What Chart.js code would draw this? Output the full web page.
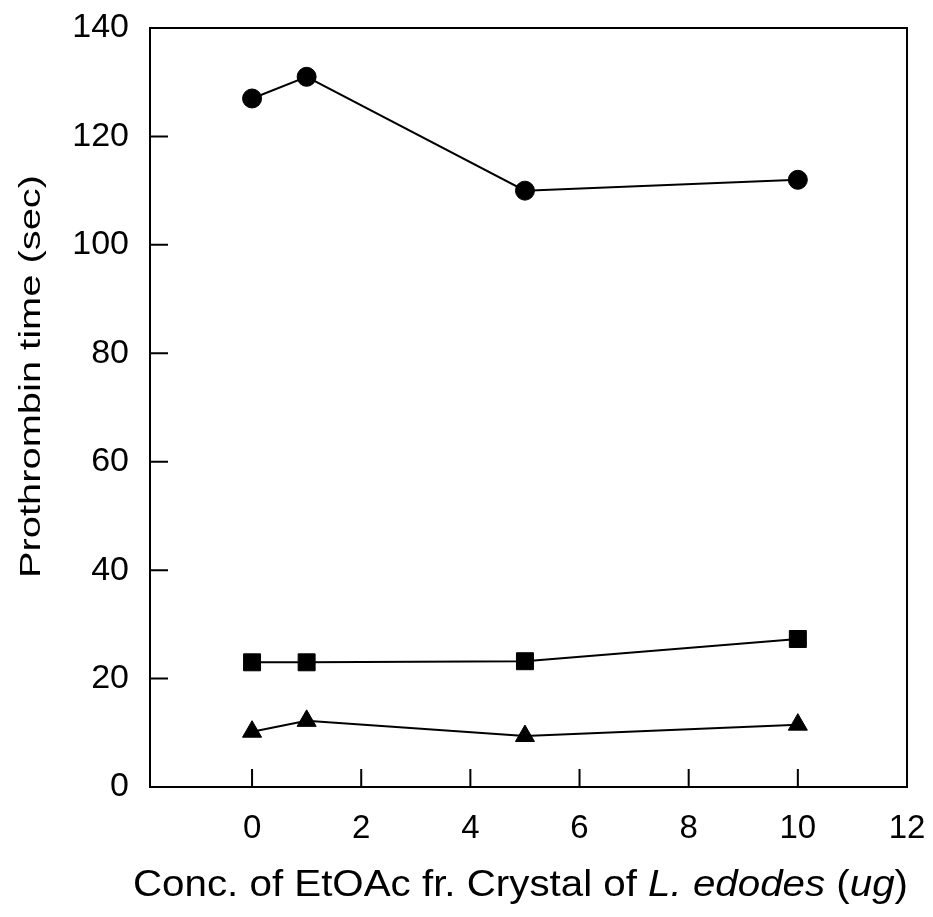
<!DOCTYPE html>
<html>
<head>
<meta charset="utf-8">
<script src="https://cdn.jsdelivr.net/npm/chart.js@4"></script>
<style>
  html, body { margin: 0; padding: 0; background: #fff; }
  #wrap { width: 933px; height: 917px; }
</style>
</head>
<body>
<div id="wrap"><canvas id="c" width="933" height="917"></canvas></div>
<script>
// Concentration of extract (ug) and prothrombin time (sec) per group
const conc = [0, 1, 5, 10];
const circleSeries = [127, 131, 110, 112];
const squareSeries = [23, 23, 23.2, 27.3];
const triangleSeries = [10.2, 12.2, 9.4, 11.5];
const xTicks = [0, 2, 4, 6, 8, 10, 12];
const yTicks = [0, 20, 40, 60, 80, 100, 120, 140];
const yTitle = 'Prothrombin time (sec)';
// x-axis title split into upright and italic runs
const xTitleRuns = [
  { text: 'Conc. of EtOAc fr. Crystal of ', italic: false },
  { text: 'L. edodes', italic: true },
  { text: ' (', italic: false },
  { text: 'ug', italic: true },
  { text: ')', italic: false }
];

const toPoints = (ys) => conc.map((x, i) => ({ x: x, y: ys[i] }));
const FAMILY = '"Liberation Sans", Arial, sans-serif';

// Frame with tick marks pointing into the plot area, plus axis titles
const framePlugin = {
  id: 'frame',
  afterDatasetsDraw(chart) {
    const { ctx, chartArea: a, scales: { x, y } } = chart;
    ctx.save();
    ctx.strokeStyle = '#000';
    ctx.lineWidth = 2;
    ctx.strokeRect(a.left, a.top, a.right - a.left, a.bottom - a.top);
    ctx.beginPath();
    const len = 18;
    xTicks.forEach(v => {
      if (v >= 12) return;
      const px = x.getPixelForValue(v);
      ctx.moveTo(px, a.bottom);
      ctx.lineTo(px, a.bottom - len);
    });
    yTicks.forEach(v => {
      if (v === 0 || v === 140) return;
      const py = y.getPixelForValue(v);
      ctx.moveTo(a.left, py);
      ctx.lineTo(a.left + len, py);
    });
    ctx.stroke();

    ctx.fillStyle = '#000';
    ctx.textBaseline = 'middle';

    // y-axis title, rotated
    ctx.save();
    ctx.translate(32, (a.top + a.bottom) / 2 - 31);
    ctx.rotate(-Math.PI / 2);
    ctx.font = '30px ' + FAMILY;
    ctx.textAlign = 'left';
    const yw = ctx.measureText(yTitle).width;
    ctx.scale(403 / yw, 1);
    ctx.fillText(yTitle, -yw / 2, 0);
    ctx.restore();

    // x-axis title with italic runs
    ctx.save();
    const fontFor = r => (r.italic ? 'italic ' : '') + '37px ' + FAMILY;
    let total = 0;
    xTitleRuns.forEach(r => { ctx.font = fontFor(r); total += ctx.measureText(r.text).width; });
    const target = 775;
    const cx = (a.left + a.right) / 2 - 8;
    ctx.translate(cx - target / 2, a.bottom + 99);
    ctx.scale(target / total, 1);
    ctx.textAlign = 'left';
    let pos = 0;
    xTitleRuns.forEach(r => {
      ctx.font = fontFor(r);
      ctx.fillText(r.text, pos, 0);
      pos += ctx.measureText(r.text).width;
    });
    ctx.restore();

    ctx.restore();
  }
};

const common = {
  showLine: true,
  borderColor: '#000',
  backgroundColor: '#000',
  pointBackgroundColor: '#000',
  pointBorderColor: '#000',
  borderWidth: 2,
  pointBorderWidth: 1
};

new Chart(document.getElementById('c'), {
  type: 'scatter',
  data: {
    datasets: [
      Object.assign({ data: toPoints(circleSeries), pointStyle: 'circle', pointRadius: 9.5 }, common),
      Object.assign({ data: toPoints(squareSeries), pointStyle: 'rect', pointRadius: 12 }, common),
      Object.assign({ data: toPoints(triangleSeries), pointStyle: 'triangle', pointRadius: 11 }, common)
    ]
  },
  options: {
    responsive: false,
    animation: false,
    events: [],
    layout: { padding: { top: 28, right: 26, left: 0, bottom: 0 } },
    plugins: { legend: { display: false }, tooltip: { enabled: false } },
    scales: {
      x: {
        type: 'linear',
        min: -1.87,
        max: 12,
        afterBuildTicks(scale) { scale.ticks = xTicks.map(v => ({ value: v })); },
        afterFit(scale) {
          scale.height = 130;
          scale.paddingLeft = 0;
          scale.paddingRight = 0;
        },
        grid: { display: false, drawTicks: false },
        border: { display: false },
        ticks: {
          color: '#000',
          font: { size: 33, family: FAMILY },
          padding: 22,
          maxRotation: 0
        }
      },
      y: {
        type: 'linear',
        min: 0,
        max: 140,
        afterBuildTicks(scale) { scale.ticks = yTicks.map(v => ({ value: v })); },
        afterFit(scale) {
          scale.width = 150;
          scale.paddingTop = 0;
          scale.paddingBottom = 0;
        },
        grid: { display: false, drawTicks: false },
        border: { display: false },
        ticks: {
          color: '#000',
          font: { size: 34, family: FAMILY },
          padding: 21
        }
      }
    }
  },
  plugins: [framePlugin]
});
</script>
</body>
</html>
